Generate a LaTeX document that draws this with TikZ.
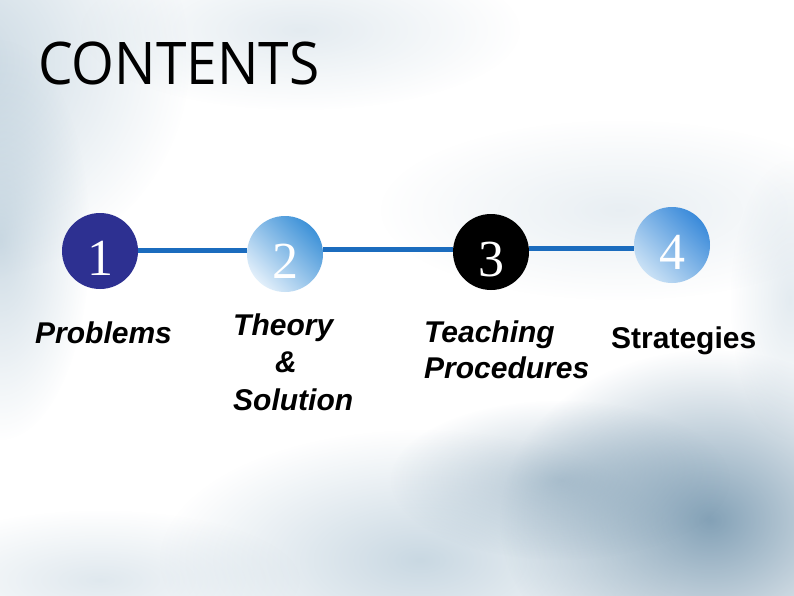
\documentclass[tikz,border=0pt]{standalone}
\usepackage{fontspec}
\setmainfont{Liberation Sans}
\newfontfamily\titlefont{Open Sans}
\newfontfamily\numfont{Liberation Serif}
\usetikzlibrary{fadings}
\tikzfading[name=softcircle, inner color=transparent!0, outer color=transparent!100]
\definecolor{wash}{RGB}{110,145,170}
\definecolor{washlight}{RGB}{165,190,207}
\definecolor{linkblue}{RGB}{27,108,190}
\definecolor{navy}{RGB}{45,48,145}
\definecolor{skyA}{RGB}{62,146,216}
\definecolor{skyB}{RGB}{226,239,250}
\tikzset{
  link/.style={draw=linkblue, line width=5pt},
  numcircle/.style={circle, minimum size=76pt, inner sep=0pt, text=white,
    font=\numfont\fontsize{52}{52}\selectfont, text height=49pt, text depth=0pt},
  lab/.style={anchor=base west, inner sep=0pt, align=left,
    font=\fontsize{30}{37}\selectfont\bfseries\itshape},
  blob/.style={fill=#1, path fading=softcircle},
}
\begin{document}
\begin{tikzpicture}[x=1pt,y=1pt]
\useasboundingbox (0,0) rectangle (794,-596);
\fill[white] (0,0) rectangle (794,-596);
% watercolor wash background
\fill[blob=washlight, fill opacity=0.6] (-40,-60) ellipse (230 and 220);
\fill[blob=washlight, fill opacity=0.55] (0,-240) ellipse (90 and 200);
\fill[blob=washlight, fill opacity=0.3] (300,-30) ellipse (220 and 80);
\fill[blob=washlight, fill opacity=0.25] (620,-210) ellipse (240 and 90);
\fill[blob=washlight, fill opacity=0.6] (420,-560) ellipse (260 and 130);
\fill[blob=wash, fill opacity=0.85] (710,-520) ellipse (210 and 170);
\fill[blob=wash, fill opacity=0.45] (560,-480) ellipse (170 and 80);
\fill[blob=washlight, fill opacity=0.35] (100,-580) ellipse (200 and 70);
\fill[blob=washlight, fill opacity=0.3] (790,-300) ellipse (60 and 140);
% title
\node[anchor=base west, inner sep=0pt, font=\titlefont\fontsize{58.8}{60}\selectfont] (title) at (38,-85) {\scalebox{0.936}[1]{CONTENTS}};
% circles
\node[numcircle, fill=navy] (c1) at (100,-251) {1};
\node[numcircle, top color=skyA, bottom color=skyB, shading angle=-45] (c2) at (285,-254) {2};
\node[numcircle, fill=black] (c3) at (491,-252) {3};
\node[numcircle, top color=skyA!95!blue, bottom color=skyB!85!skyA, shading angle=-45] (c4) at (672,-245) {4};
\draw[link] (c1.east |- 0,-250) -- (c2.west |- 0,-250);
\draw[link] (c2.east |- 0,-249) -- (c3.west |- 0,-249);
\draw[link] (c3.east |- 0,-248) -- (c4.west |- 0,-248);
% labels
\node[lab] (l1) at (35,-343) {Problems};
\node[lab, font=\fontsize{30}{37.5}\selectfont\bfseries\itshape] (l2) at (233,-410) {Theory\\\hspace*{42pt}\&\\Solution};
\node[lab, font=\fontsize{30}{36}\selectfont\bfseries\itshape] (l3) at (424,-378) {Teaching\\Procedures};
\node[lab, font=\fontsize{30}{37}\selectfont\bfseries] (l4) at (611,-348) {Strategies};
\end{tikzpicture}
\end{document}
